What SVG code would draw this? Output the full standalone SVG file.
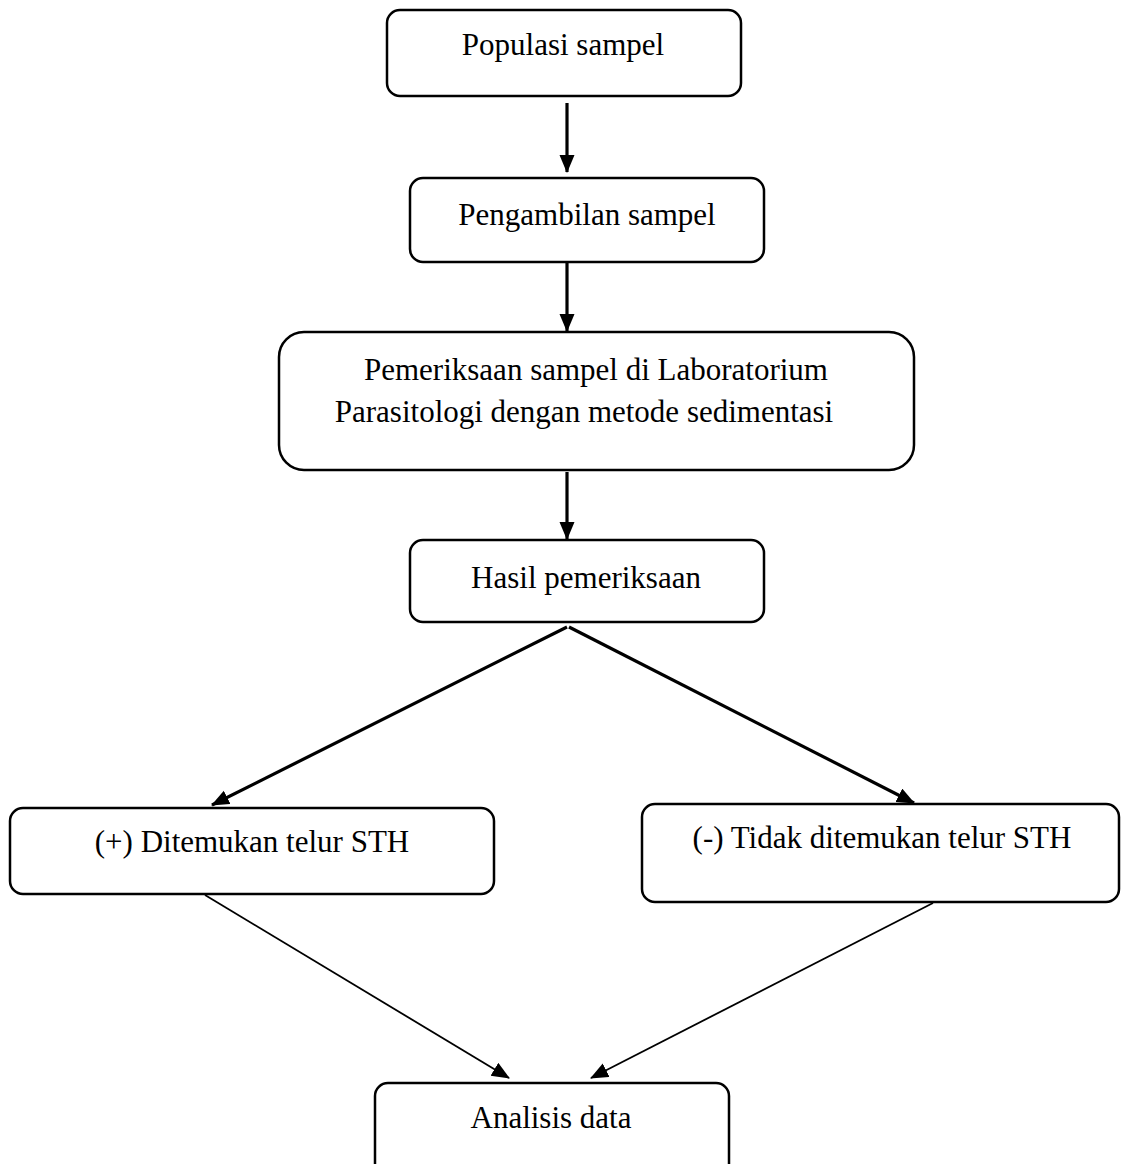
<svg xmlns="http://www.w3.org/2000/svg" width="1121" height="1164" viewBox="0 0 1121 1164">
<style>
.box{fill:#fff;stroke:#000;stroke-width:2.5}
.t{font-family:"Liberation Serif","Times New Roman",serif;font-size:31px;fill:#000;text-anchor:middle}
.thick{stroke:#000;stroke-width:3.2;fill:none}
.thin{stroke:#000;stroke-width:1.8;fill:none}
</style>
<defs>
<marker id="ah" markerUnits="userSpaceOnUse" markerWidth="18" markerHeight="16" refX="17" refY="7.5" orient="auto">
<path d="M0,0 L18,7.5 L0,15 z" fill="#000"/>
</marker>
</defs>
<rect width="1121" height="1164" fill="#fff"/>
<g id="n1"><rect class="box" x="387" y="10" width="354" height="86" rx="13"/><text class="t" x="563" y="55">Populasi sampel</text></g>
<g id="n2"><rect class="box" x="410" y="178" width="354" height="84" rx="13"/><text class="t" x="587" y="225">Pengambilan sampel</text></g>
<g id="n3"><rect class="box" x="279" y="332" width="635" height="138" rx="25"/><text class="t" x="596" y="380">Pemeriksaan sampel di Laboratorium</text><text class="t" x="584" y="422">Parasitologi dengan metode sedimentasi</text></g>
<g id="n4"><rect class="box" x="410" y="540" width="354" height="82" rx="13"/><text class="t" x="586" y="588">Hasil pemeriksaan</text></g>
<g id="n5"><rect class="box" x="10" y="808" width="484" height="86" rx="13"/><text class="t" x="252" y="852">(+) Ditemukan telur STH</text></g>
<g id="n6"><rect class="box" x="642" y="804" width="477" height="98" rx="13"/><text class="t" x="882" y="848">(-) Tidak ditemukan telur STH</text></g>
<g id="n7"><rect class="box" x="375" y="1083" width="354" height="100" rx="13"/><text class="t" x="551" y="1128">Analisis data</text></g>
<g id="connectors">
<line class="thick" x1="567" y1="103" x2="567" y2="172" marker-end="url(#ah)"/>
<line class="thick" x1="567" y1="263" x2="567" y2="331" marker-end="url(#ah)"/>
<line class="thick" x1="567" y1="472" x2="567" y2="539" marker-end="url(#ah)"/>
<line class="thick" x1="567" y1="627" x2="212" y2="805" marker-end="url(#ah)"/>
<line class="thick" x1="569" y1="627" x2="914" y2="803" marker-end="url(#ah)"/>
<line class="thin" x1="205" y1="895" x2="509" y2="1078" marker-end="url(#ah)"/>
<line class="thin" x1="933" y1="903" x2="591" y2="1078" marker-end="url(#ah)"/>
</g>
</svg>
